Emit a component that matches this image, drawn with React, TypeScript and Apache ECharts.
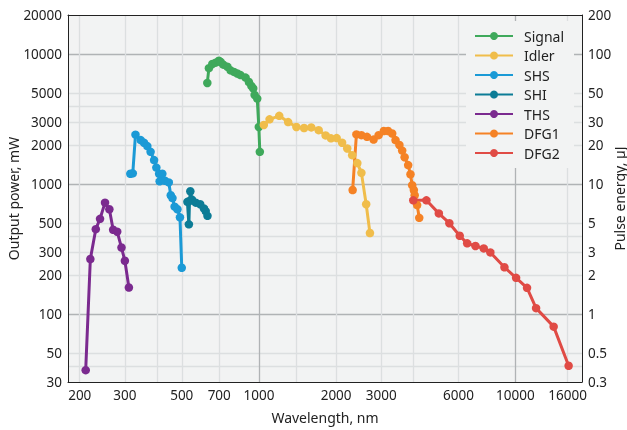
import { useEffect, useRef } from "react";
import * as echarts from "echarts";

// [wavelength nm, output power mW]
const signal: [number, number][] = [
  [629, 6000], [638, 7800], [658, 8400], [678, 8600], [698, 8900], [709, 8700], [726, 8300],
  [753, 8000], [775, 7500], [799, 7300], [823, 7100], [848, 6900], [887, 6600], [914, 6100],
  [934, 5700], [950, 5450], [962, 4850], [985, 4550], [999, 2750], [1008, 1770],
];
const idler: [number, number][] = [
  [1045, 2850], [1100, 3150], [1200, 3350], [1300, 3000], [1400, 2750], [1500, 2700],
  [1600, 2730], [1710, 2600], [1820, 2370], [1910, 2250], [2010, 2260], [2110, 2080],
  [2210, 1880], [2310, 1670], [2420, 1450], [2510, 1220], [2620, 700], [2710, 420],
];
const shs: [number, number][] = [
  [315, 1200], [322, 1210], [330, 2400], [346, 2180], [356, 2080], [367, 1960], [378, 1770],
  [390, 1530], [398, 1340], [408, 1200], [410, 1050], [420, 1200], [430, 1060], [445, 1030],
  [453, 820], [460, 780], [469, 670], [481, 640], [492, 555], [500, 227],
];
const shi: [number, number][] = [
  [526, 730], [533, 490], [536, 740], [540, 880], [548, 760], [567, 720], [590, 700],
  [610, 650], [620, 620], [630, 570],
];
const ths: [number, number][] = [
  [211, 37], [220, 265], [231, 450], [240, 540], [251, 720], [261, 640], [270, 445],
  [280, 430], [291, 325], [300, 257], [311, 160],
];
const dfg1: [number, number][] = [
  [2320, 900], [2400, 2410], [2510, 2380], [2640, 2310], [2800, 2200], [2930, 2380],
  [3070, 2560], [3190, 2560], [3310, 2450], [3410, 2180], [3530, 2000], [3620, 1810],
  [3700, 1610], [3820, 1400], [3900, 1190], [3960, 980], [4020, 900], [4050, 820],
  [4140, 690], [4220, 550],
];
const dfg2: [number, number][] = [
  [4000, 750], [4500, 750], [5030, 595], [5530, 500], [6070, 400], [6490, 350], [6990, 334],
  [7530, 320], [7990, 298], [9070, 229], [10070, 190], [11110, 159], [12050, 111],
  [14110, 80], [16140, 40],
];

const seriesNames = ["Signal", "Idler", "SHS", "SHI", "THS", "DFG1", "DFG2"];
const seriesData = [signal, idler, shs, shi, ths, dfg1, dfg2];
const seriesColors = ["#3fa95b", "#f0bd4b", "#1b9ad6", "#0c7c96", "#7b2a8f", "#f58225", "#e04b45"];

const xLabelValues = [200, 300, 500, 700, 1000, 2000, 3000, 6000, 10000, 16000];
const xMinorGrid = [200, 300, 400, 500, 700, 1400, 2000, 3000, 4000, 6000, 16000];
const xMajorGrid = [1000, 10000];
const yLabelValues = [30, 50, 100, 200, 300, 500, 1000, 2000, 3000, 5000, 10000, 20000];
const yMinorGrid = [40, 50, 200, 300, 400, 500, 2000, 3000, 4000, 5000];
const energyLabelValues = [0.3, 0.5, 1, 2, 3, 5, 10, 20, 30, 50, 100, 200];
const energyMajorGrid = [1, 10, 100];

const xRange = [180, 18200];
const yRange = [30, 20000];
const energyRange = [0.3, 200];

const L = (v: number) => Math.log10(v);
const fmt = (v: number) => String(Number(Math.pow(10, v).toPrecision(2)));

const FONT = "'Noto Sans', sans-serif";
const TEXT = "#222";
const LIGHT = "#dcdfe0";
const DARK = "#b0b3b5";
const AXIS = "#222";

export default function App() {
  const ref = useRef<HTMLDivElement>(null);
  useEffect(() => {
    if (!ref.current) return;
    const chart = echarts.init(ref.current, undefined, { renderer: "svg" });
    const labelStyle = { color: TEXT, fontSize: 13.5, fontFamily: FONT, formatter: fmt };
    const nameStyle = { fontSize: 14, color: TEXT, fontFamily: FONT };
    chart.setOption({
      animation: false,
      textStyle: { fontFamily: FONT },
      grid: {
        left: 68, right: 45, top: 15, bottom: 48,
        containLabel: false,
        outerBoundsMode: "none",
        show: true, backgroundColor: "#f2f3f3", borderWidth: 0,
      },
      legend: {
        orient: "vertical",
        left: 466,
        top: 21,
        itemWidth: 38,
        itemHeight: 10,
        itemGap: 5.5,
        padding: [8, 10, 8, 8],
        backgroundColor: "#f2f3f3",
        textStyle: { fontSize: 14, color: TEXT, fontFamily: FONT, padding: [0, 0, 0, 6] },
        data: seriesNames,
      },
      xAxis: [
        {
          type: "value",
          min: L(xRange[0]), max: L(xRange[1]),
          position: "bottom",
          name: "Wavelength, nm",
          nameLocation: "middle",
          nameGap: 28,
          nameMoveOverlap: false,
          nameTextStyle: nameStyle,
          axisLine: { show: true, onZero: false, lineStyle: { color: AXIS, width: 1 } },
          axisTick: { show: false, customValues: xMinorGrid.map(L) },
          axisLabel: { ...labelStyle, margin: 6, customValues: xLabelValues.map(L) },
          splitLine: { show: true, lineStyle: { color: LIGHT, width: 1.3 } },
        },
        {
          type: "value",
          min: L(xRange[0]), max: L(xRange[1]),
          position: "top",
          axisLine: { show: true, onZero: false, lineStyle: { color: AXIS, width: 1 } },
          axisTick: { show: false, customValues: xMajorGrid.map(L) },
          axisLabel: { show: false },
          splitLine: { show: true, lineStyle: { color: DARK, width: 1.3 } },
        },
      ],
      yAxis: [
        {
          type: "value",
          min: L(yRange[0]), max: L(yRange[1]),
          position: "left",
          name: "Output power, mW",
          nameLocation: "middle",
          nameRotate: 90,
          nameGap: 48,
          nameMoveOverlap: false,
          nameTextStyle: nameStyle,
          axisLine: { show: true, onZero: false, lineStyle: { color: AXIS, width: 1 } },
          axisTick: { show: false, customValues: yMinorGrid.map(L) },
          axisLabel: { ...labelStyle, margin: 6, customValues: yLabelValues.map(L) },
          splitLine: { show: true, lineStyle: { color: LIGHT, width: 1.3 } },
        },
        {
          type: "value",
          min: L(energyRange[0]), max: L(energyRange[1]),
          position: "right",
          name: "Pulse energy, µJ",
          nameLocation: "middle",
          nameRotate: 90,
          nameGap: 30,
          nameMoveOverlap: false,
          nameTextStyle: nameStyle,
          axisLine: { show: true, onZero: false, lineStyle: { color: AXIS, width: 1 } },
          axisTick: { show: false, customValues: energyMajorGrid.map(L) },
          axisLabel: { ...labelStyle, margin: 6, customValues: energyLabelValues.map(L) },
          splitLine: { show: true, lineStyle: { color: DARK, width: 1.3 } },
        },
      ],
      series: seriesNames.map((name, i) => ({
        name,
        type: "line",
        xAxisIndex: 0,
        yAxisIndex: 0,
        data: seriesData[i].map(([w, p]) => [L(w), L(p)]),
        symbol: "circle",
        symbolSize: 8.5,
        showSymbol: true,
        color: seriesColors[i],
        lineStyle: { width: 3, color: seriesColors[i] },
        itemStyle: { color: seriesColors[i] },
        emphasis: { disabled: true },
        z: 3,
      })),
    });
    return () => chart.dispose();
  }, []);
  return (
    <div
      ref={ref}
      style={{ position: "fixed", left: 0, top: 0, width: 627, height: 430 }}
    />
  );
}
